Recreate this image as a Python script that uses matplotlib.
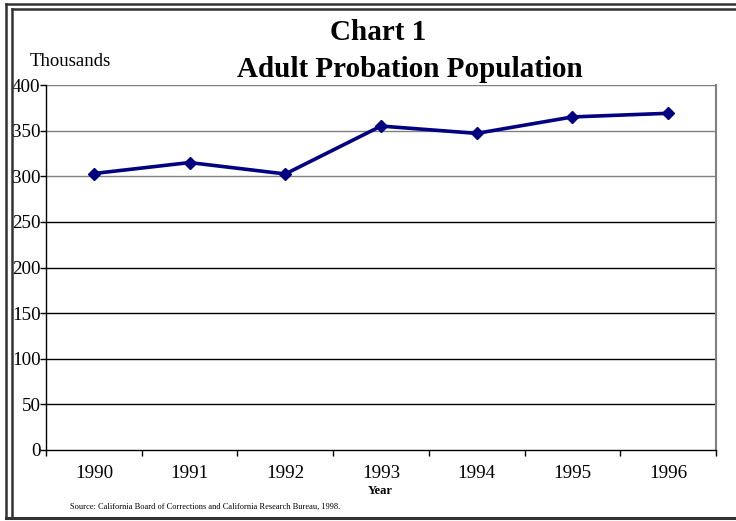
import numpy as np
import matplotlib
matplotlib.use("Agg")
import matplotlib.pyplot as plt
from matplotlib.lines import Line2D

plt.rcParams['font.family'] = ['Liberation Serif', 'DejaVu Serif']

years = ['1990', '1991', '1992', '1993', '1994', '1995', '1996']
population = [303, 315, 302.5, 355, 347, 365, 369]
y_ticks = [0, 50, 100, 150, 200, 250, 300, 350, 400]

W, H = 736, 521
fig = plt.figure(figsize=(W / 100, H / 100), dpi=100)

def fx(px):
    return px / W

def fy(py):
    return 1 - py / H

# double frame round the chart
for x0, y0 in [(6.5, 4), (12, 9)]:
    fig.add_artist(Line2D([fx(x0), fx(x0)], [fy(y0), fy(518)], color='#333333', lw=1.8))
    fig.add_artist(Line2D([fx(x0), 1.0], [fy(y0), fy(y0)], color='#333333', lw=1.8))
fig.add_artist(Line2D([fx(6.5), 1.0], [fy(518), fy(518)], color='#333333', lw=2.2))

ax = fig.add_axes([fx(46), fy(450), fx(716) - fx(46), fy(85) - fy(450)])
x = np.arange(len(years))
ax.plot(x, population, color='#000080', lw=2.6, marker='D', markersize=6.5, zorder=3)

ax.set_xlim(-0.5, len(years) - 0.5)
ax.set_ylim(0, 400)

# gridlines: upper ones gray, lower ones black as in the scan
for v in y_ticks[1:]:
    ax.axhline(v, color='#808080' if v >= 300 else 'black', lw=1.0, zorder=1)

ax.spines['top'].set_visible(False)
ax.spines['right'].set_color('#808080')
ax.spines['right'].set_linewidth(1.5)
ax.spines['left'].set_color('black')
ax.spines['bottom'].set_color('black')
ax.spines['left'].set_linewidth(1.0)
ax.spines['bottom'].set_linewidth(1.0)

ax.set_yticks(y_ticks)
ax.set_yticklabels([str(v) for v in y_ticks], fontsize=13.7)
ax.tick_params(axis='y', direction='out', length=4, pad=0, width=1)

ax.set_xticks(np.arange(len(years) + 1) - 0.5)
ax.set_xticklabels([])
ax.tick_params(axis='x', which='major', direction='out', length=4, width=1)
ax.set_xticks(x, minor=True)
ax.set_xticklabels(years, minor=True, fontsize=13.7)
ax.tick_params(axis='x', which='minor', length=0, pad=11)

fig.text(fx(378), fy(40), 'Chart 1', fontsize=21, fontweight='bold', ha='center', va='baseline')
fig.text(fx(410), fy(77), 'Adult Probation Population', fontsize=21, fontweight='bold',
         ha='center', va='baseline')
fig.text(fx(30), fy(66), 'Thousands', fontsize=13.5, ha='left', va='baseline')
fig.text(fx(380), fy(494), 'Year', fontsize=9, fontweight='bold', ha='center', va='baseline')
fig.text(fx(70), fy(509), 'Source: California Board of Corrections and California Research Bureau, 1998.',
         fontsize=6, ha='left', va='baseline')

fig.savefig('out.png', dpi=100)
